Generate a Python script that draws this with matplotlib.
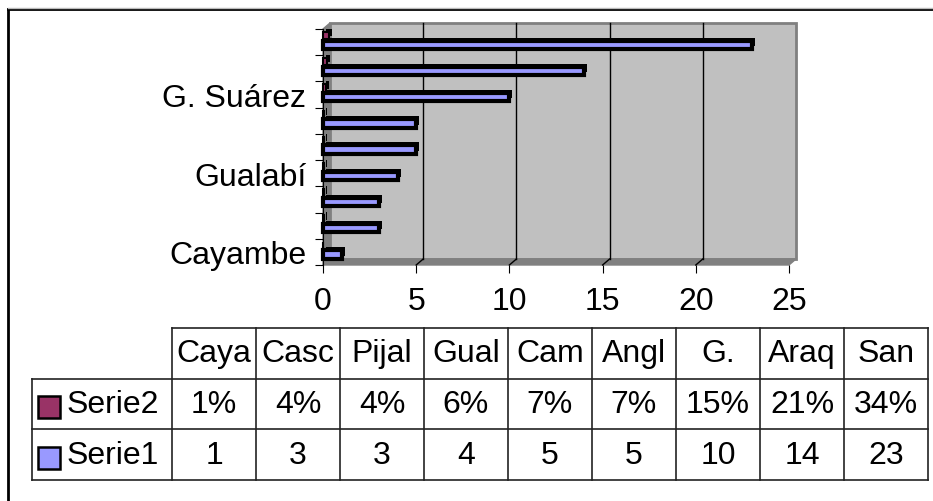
import matplotlib
matplotlib.use('Agg')
import matplotlib.pyplot as plt
from matplotlib.lines import Line2D
from matplotlib.patches import Polygon, Rectangle

plt.rcParams['font.family'] = ['Liberation Sans', 'DejaVu Sans']

# Data
cols = ['Caya', 'Casc', 'Pijal', 'Gual', 'Cam', 'Angl', 'G.', 'Araq', 'San']
axis_labels = ['Cayambe', '', '', 'Gualabí', '', '', 'G. Suárez', '', '']
serie1 = [1, 3, 3, 4, 5, 5, 10, 14, 23]
serie2 = [0.01, 0.04, 0.04, 0.06, 0.07, 0.07, 0.15, 0.21, 0.34]
serie2_txt = ['1%', '4%', '4%', '6%', '7%', '7%', '15%', '21%', '34%']

BLUE = '#9999FF'
MAROON = '#993366'
FS = 23

W, H = 933, 502
fig = plt.figure(figsize=(W / 100, H / 100), dpi=100)

# chart area (pixel box -> figure fraction)
ax = fig.add_axes([323 / W, (H - 266) / H, 466 / W, 236 / H])
n = len(cols)
ax.set_xlim(0, 25)
ax.set_ylim(-0.5, n - 0.5)

# 3d depth in data units
dx = 7 * 25 / 466
dy = 6 * n / 236

# back wall, floor, side wall
ax.add_patch(Rectangle((dx, -0.5 + dy), 25, n, facecolor='#C0C0C0',
                       edgecolor='#808080', lw=2, zorder=0, clip_on=False))
ax.add_patch(Polygon([(0, -0.5), (25, -0.5), (25 + dx, -0.5 + dy), (dx, -0.5 + dy)],
                     closed=True, facecolor='#808080', edgecolor='#808080',
                     zorder=0.5, clip_on=False))
ax.add_patch(Polygon([(0, -0.5), (0, n - 0.5), (dx, n - 0.5 + dy), (dx, -0.5 + dy)],
                     closed=True, facecolor='#808080', edgecolor='#808080',
                     zorder=0.5, clip_on=False))
for g in [5, 10, 15, 20]:
    ax.plot([g + dx, g + dx], [-0.5 + dy, n - 0.5 + dy], color='black', lw=1, zorder=0.6,
            clip_on=False)
    ax.plot([g, g + dx], [-0.5, -0.5 + dy], color='black', lw=1, zorder=0.6, clip_on=False)

ys = list(range(n))
sx = 3 * 25 / 466
sy = 3 * n / 236
y1 = [y - 0.1 for y in ys]
y2 = [y + 0.25 for y in ys]
# shadows (depth), then fronts
ax.barh([y + sy for y in y1], serie1, left=sx, height=0.32, color='black', zorder=2, clip_on=False)
ax.barh(y1, serie1, height=0.32, color=BLUE, edgecolor='black', lw=3, zorder=3, clip_on=False)
ax.barh([y + sy for y in y2], serie2, left=sx, height=0.28, color='black', zorder=2, clip_on=False)
ax.barh(y2, serie2, height=0.28, color=MAROON, edgecolor='black', lw=1.5, zorder=3, clip_on=False)

for s in ['top', 'right']:
    ax.spines[s].set_visible(False)
ax.spines['bottom'].set_visible(False)
ax.spines['left'].set_color('black')
ax.set_facecolor('none')

ax.set_xticks([0, 5, 10, 15, 20, 25])
ax.tick_params(axis='x', length=6, pad=9, labelsize=FS, color='black')
ax.set_yticks([y - 0.5 for y in range(n + 1)])
ax.set_yticklabels([])
ax.tick_params(axis='y', which='major', length=6, color='black')
ax.set_yticks(ys, minor=True)
ax.set_yticklabels(axis_labels, minor=True, fontsize=FS)
ax.tick_params(axis='y', which='minor', length=0, pad=12)

# data table
tab = fig.add_axes([32 / W, (H - 481) / H, 896 / W, 152 / H])
lc = 140 / 84
tab.set_xlim(-lc, n)
tab.set_ylim(0, 3)
tab.axis('off')
lk = dict(color='#222222', lw=1.2, clip_on=False)
tab.plot([0, n], [3, 3], **lk)
for yy in [0, 1, 2]:
    tab.plot([-lc, n], [yy, yy], **lk)
tab.plot([-lc, -lc], [0, 2], **lk)
for xx in range(n + 1):
    tab.plot([xx, xx], [0, 3], **lk)

for i in range(n):
    tab.text(i + 0.5, 2.5, cols[i], ha='center', va='center', fontsize=FS)
    tab.text(i + 0.5, 1.5, serie2_txt[i], ha='center', va='center', fontsize=FS)
    tab.text(i + 0.5, 0.5, str(serie1[i]), ha='center', va='center', fontsize=FS)

for row, name, col in [(1.5, 'Serie2', MAROON), (0.5, 'Serie1', BLUE)]:
    tab.plot([-lc + 17 / 84], [row - 0.06], marker='s', markersize=15.5, color=col,
             mec='black', mew=1.8, clip_on=False)
    tab.text(-lc + 35 / 84, row, name, ha='left', va='center', fontsize=FS)

# outer chart border
fig.add_artist(Line2D([8 / W, 1], [(H - 10) / H, (H - 10) / H], color='black', lw=2))
fig.add_artist(Line2D([8 / W, 8 / W], [0, (H - 10) / H], color='black', lw=2))
fig.add_artist(Line2D([8 / W, 1], [(H - 8.5) / H, (H - 8.5) / H], color='#BBBBBB', lw=1))

fig.savefig('out.png', dpi=100)
